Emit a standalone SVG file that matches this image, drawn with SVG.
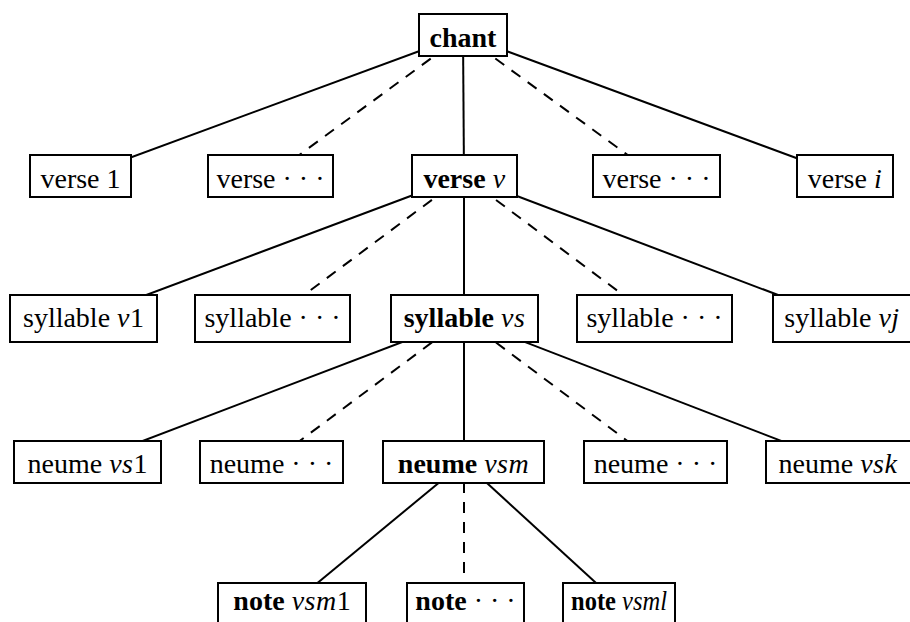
<svg xmlns="http://www.w3.org/2000/svg" width="910" height="622" viewBox="0 0 910 622">
<style>
  .box { fill: #fff; stroke: #000; stroke-width: 2; }
  .edge { stroke: #000; stroke-width: 2; fill: none; }
  .dash { stroke-dasharray: 11 9; }
  text { font-family: 'Liberation Serif', 'DejaVu Serif', serif; font-size: 28px; text-anchor: middle; fill: #000; }
  .b { font-weight: bold; }
  .m { font-style: italic; letter-spacing: 0.5px; }
</style>
<rect x="0" y="0" width="910" height="622" fill="#fff"/>
<g id="connectors">
  <line class="edge" x1="463" y1="35" x2="80.5" y2="176"/>
  <line class="edge dash" x1="463" y1="35" x2="270.5" y2="176"/>
  <line class="edge" x1="463" y1="35" x2="464" y2="176"/>
  <line class="edge dash" x1="463" y1="35" x2="656.5" y2="176"/>
  <line class="edge" x1="463" y1="35" x2="845" y2="176"/>
  <line class="edge" x1="464" y1="176" x2="83.5" y2="318.5"/>
  <line class="edge dash" x1="464" y1="176" x2="272.5" y2="318.5"/>
  <line class="edge" x1="464" y1="176" x2="464" y2="318.5"/>
  <line class="edge dash" x1="464" y1="176" x2="654.5" y2="318.5"/>
  <line class="edge" x1="464" y1="176" x2="840" y2="318.5"/>
  <line class="edge" x1="464" y1="318.5" x2="87.5" y2="462"/>
  <line class="edge dash" x1="464" y1="318.5" x2="271.5" y2="462"/>
  <line class="edge" x1="464" y1="318.5" x2="464" y2="462"/>
  <line class="edge dash" x1="464" y1="318.5" x2="655.5" y2="462"/>
  <line class="edge" x1="464" y1="318.5" x2="836" y2="462"/>
  <line class="edge" x1="464" y1="462" x2="292" y2="604"/>
  <line class="edge dash" x1="464" y1="462" x2="464" y2="604"/>
  <line class="edge" x1="464" y1="462" x2="619" y2="604"/>
</g>
<g id="chant">
  <rect class="box" x="419" y="14" width="88" height="42"/>
  <text x="463" y="47"><tspan class="b">chant</tspan></text>
</g>
<g id="verse1">
  <rect class="box" x="30" y="155" width="101" height="42"/>
  <text x="80.5" y="188">verse 1</text>
</g>
<g id="verseDotsL">
  <rect class="box" x="208" y="155" width="125" height="42"/>
  <text x="270.5" y="188">verse · · ·</text>
</g>
<g id="verseV">
  <rect class="box" x="412" y="155" width="105" height="42"/>
  <text x="464.5" y="188"><tspan class="b">verse</tspan> <tspan class="m">v</tspan></text>
</g>
<g id="verseDotsR">
  <rect class="box" x="593" y="155" width="127" height="42"/>
  <text x="656.5" y="188">verse · · ·</text>
</g>
<g id="verseI">
  <rect class="box" x="797" y="155" width="96" height="42"/>
  <text x="845" y="188">verse <tspan class="m">i</tspan></text>
</g>
<g id="syllableV1">
  <rect class="box" x="10" y="295" width="147" height="47"/>
  <text x="83.5" y="327">syllable <tspan class="m">v</tspan>1</text>
</g>
<g id="syllableDotsL">
  <rect class="box" x="195" y="295" width="155" height="47"/>
  <text x="272.5" y="327">syllable · · ·</text>
</g>
<g id="syllableVS">
  <rect class="box" x="391" y="295" width="147" height="47"/>
  <text x="464.5" y="327"><tspan class="b">syllable</tspan> <tspan class="m">vs</tspan></text>
</g>
<g id="syllableDotsR">
  <rect class="box" x="577" y="295" width="155" height="47"/>
  <text x="654.5" y="327">syllable · · ·</text>
</g>
<g id="syllableVJ">
  <rect class="box" x="773" y="295" width="145" height="47"/>
  <text x="842" y="327">syllable <tspan class="m">vj</tspan></text>
</g>
<g id="neumeVS1">
  <rect class="box" x="14" y="441" width="147" height="42"/>
  <text x="87.5" y="473">neume <tspan class="m">vs</tspan>1</text>
</g>
<g id="neumeDotsL">
  <rect class="box" x="200" y="441" width="143" height="42"/>
  <text x="271.5" y="473">neume · · ·</text>
</g>
<g id="neumeVSM">
  <rect class="box" x="383" y="441" width="161" height="42"/>
  <text x="463.5" y="473"><tspan class="b">neume</tspan> <tspan class="m">vsm</tspan></text>
</g>
<g id="neumeDotsR">
  <rect class="box" x="584" y="441" width="143" height="42"/>
  <text x="655.5" y="473">neume · · ·</text>
</g>
<g id="neumeVSK">
  <rect class="box" x="766" y="441" width="150" height="42"/>
  <text x="838" y="473">neume <tspan class="m">vsk</tspan></text>
</g>
<g id="noteVSM1">
  <rect class="box" x="218" y="583" width="148" height="42"/>
  <text x="292" y="610"><tspan class="b">note</tspan> <tspan class="m">vsm</tspan>1</text>
</g>
<g id="noteDots">
  <rect class="box" x="407" y="583" width="117" height="42"/>
  <text x="465.5" y="610"><tspan class="b">note</tspan> · · ·</text>
</g>
<g id="noteVSML">
  <rect class="box" x="563" y="583" width="112" height="42"/>
  <text x="619" y="610" textLength="96" lengthAdjust="spacingAndGlyphs"><tspan class="b">note</tspan> <tspan font-style="italic">vsml</tspan></text>
</g>
</svg>
